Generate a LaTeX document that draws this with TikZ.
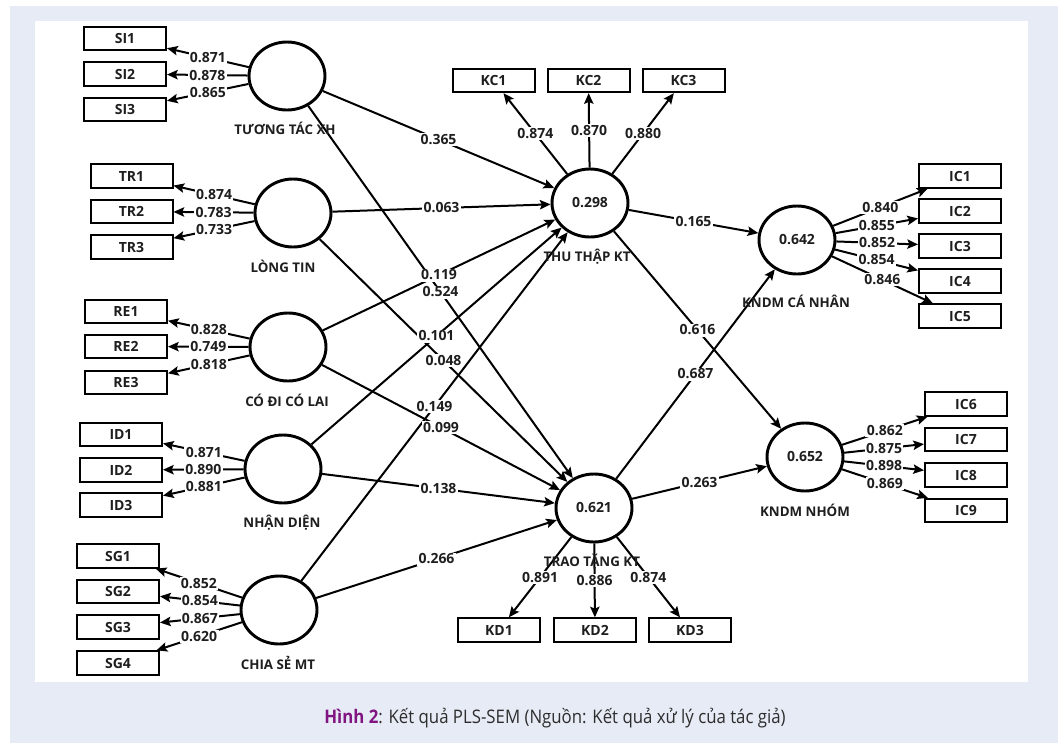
\documentclass[tikz,border=0pt]{standalone}
\usepackage{fontspec}
\usepackage{graphicx}
\setmainfont{Open Sans}
\usetikzlibrary{shapes.geometric,arrows.meta}
\definecolor{bgl}{RGB}{231,235,246}
\definecolor{capp}{RGB}{128,20,128}
\definecolor{txt}{RGB}{30,30,30}
\definecolor{captxt}{RGB}{45,45,45}
\tikzset{
  lv/.style={draw, ellipse, line width=2.2pt, minimum width=57pt, minimum height=51pt, inner sep=0pt, text=txt, font=\bfseries\fontsize{10.5}{12}\selectfont},
  ind/.style={draw, rectangle, line width=1.5pt, minimum width=61.5pt, minimum height=17.5pt, inner sep=0pt, text=txt, font=\bfseries\fontsize{10.5}{12}\selectfont},
  lvname/.style={inner sep=0pt, text=txt, font=\bfseries\fontsize{10}{12}\selectfont},
  lbl/.style={fill=white, inner sep=1pt, text=txt, font=\bfseries\fontsize{10.5}{12}\selectfont},
  arr/.style={line width=1.5pt, -{Stealth[length=8pt,width=7pt,inset=1.5pt]}},
}
\begin{document}
\begin{tikzpicture}[x=0.75pt,y=-0.75pt]
\useasboundingbox (0,0) rectangle (1058,743);
\fill[bgl] (10,6) rectangle (1058,743);
\fill[white] (35,21) rectangle (1028,682);
% latent variables
\node[lv] (tt) at (287,76) {};
\node[lv] (lt) at (293,213) {};
\node[lv] (cd) at (288,347) {};
\node[lv] (nd) at (283,469) {};
\node[lv] (cs) at (279,610) {};
\node[lv] (thu) at (590,203) {0.298};
\node[lv] (trao) at (594,508) {0.621};
\node[lv] (kca) at (797,240) {0.642};
\node[lv] (kn) at (805,457) {0.652};
% indicators
\node[ind] (si1) at (125,38.5) {SI1};
\node[ind] (si2) at (125,74) {SI2};
\node[ind] (si3) at (125,109.5) {SI3};
\node[ind] (tr1) at (131.5,176) {TR1};
\node[ind] (tr2) at (131.5,211.5) {TR2};
\node[ind] (tr3) at (131.5,247) {TR3};
\node[ind] (re1) at (126,311.5) {RE1};
\node[ind] (re2) at (126,346.5) {RE2};
\node[ind] (re3) at (126,382.5) {RE3};
\node[ind] (id1) at (121,434.5) {ID1};
\node[ind] (id2) at (121,470) {ID2};
\node[ind] (id3) at (121,505) {ID3};
\node[ind] (sg1) at (118,556) {SG1};
\node[ind] (sg2) at (118,591.5) {SG2};
\node[ind] (sg3) at (118,627) {SG3};
\node[ind] (sg4) at (118,663) {SG4};
\node[ind] (kc1) at (493.5,80.5) {KC1};
\node[ind] (kc2) at (588.5,80.5) {KC2};
\node[ind] (kc3) at (683.5,80.5) {KC3};
\node[ind] (kd1) at (499,630) {KD1};
\node[ind] (kd2) at (595,630) {KD2};
\node[ind] (kd3) at (690,630) {KD3};
\node[ind] (ic1) at (960,176) {IC1};
\node[ind] (ic2) at (960,211) {IC2};
\node[ind] (ic3) at (960,246) {IC3};
\node[ind] (ic4) at (960,281) {IC4};
\node[ind] (ic5) at (960,316) {IC5};
\node[ind] (ic6) at (966,404) {IC6};
\node[ind] (ic7) at (966,439.5) {IC7};
\node[ind] (ic8) at (966,475) {IC8};
\node[ind] (ic9) at (966,510.5) {IC9};
% connectors
\def\edgelist{tt/thu/0.365, tt/trao/0.524, lt/thu/0.063, lt/trao/0.048, cd/thu/0.119, cd/trao/0.099, nd/thu/0.101, nd/trao/0.138, cs/thu/0.149, cs/trao/0.266, thu/kca/0.165, thu/kn/0.616, trao/kca/0.687, trao/kn/0.263,
 tt/si1/0.871, tt/si2/0.878, tt/si3/0.865, lt/tr1/0.874, lt/tr2/0.783, lt/tr3/0.733, cd/re1/0.828, cd/re2/0.749, cd/re3/0.818, nd/id1/0.871, nd/id2/0.890, nd/id3/0.881, cs/sg1/0.852, cs/sg2/0.854, cs/sg3/0.867, cs/sg4/0.620,
 thu/kc1/0.874, thu/kc2/0.870, thu/kc3/0.880, trao/kd1/0.891, trao/kd2/0.886, trao/kd3/0.874,
 kca/ic1/0.840, kca/ic2/0.855, kca/ic3/0.852, kca/ic4/0.854, kca/ic5/0.846, kn/ic6/0.862, kn/ic7/0.875, kn/ic8/0.898, kn/ic9/0.869}
\foreach \a/\b/\lab in \edgelist { \draw[arr] (\a) -- (\b); }
\foreach \a/\b/\lab in \edgelist { \path (\a) -- node[lbl] {\lab} (\b); }
% names
\node[lvname] (ntt) at (285,128) {TƯƠNG TÁC XH};
\node[lvname] (nlt) at (283,266) {LÒNG TIN};
\node[lvname] (ncd) at (287,400) {CÓ ĐI CÓ LAI};
\node[lvname] (nnd) at (282,523) {NHẬN DIỆN};
\node[lvname] (ncs) at (278,663) {CHIA SẺ MT};
\node[lvname] (nthu) at (587,257) {THU THẬP KT};
\node[lvname] (ntrao) at (592,562) {TRAO TẶNG KT};
\node[lvname] (nkca) at (796,301) {KNDM CÁ NHÂN};
\node[lvname] (nkn) at (805,510) {KNDM NHÓM};
% caption
\node[inner sep=0pt, text=captxt, font=\fontsize{14}{16}\selectfont] (cap) at (555,718) {\scalebox{0.9}[1]{\textcolor{capp}{\bfseries Hình 2}: Kết quả PLS-SEM (Nguồn: Kết quả xử lý của tác giả)}};
\end{tikzpicture}
\end{document}
